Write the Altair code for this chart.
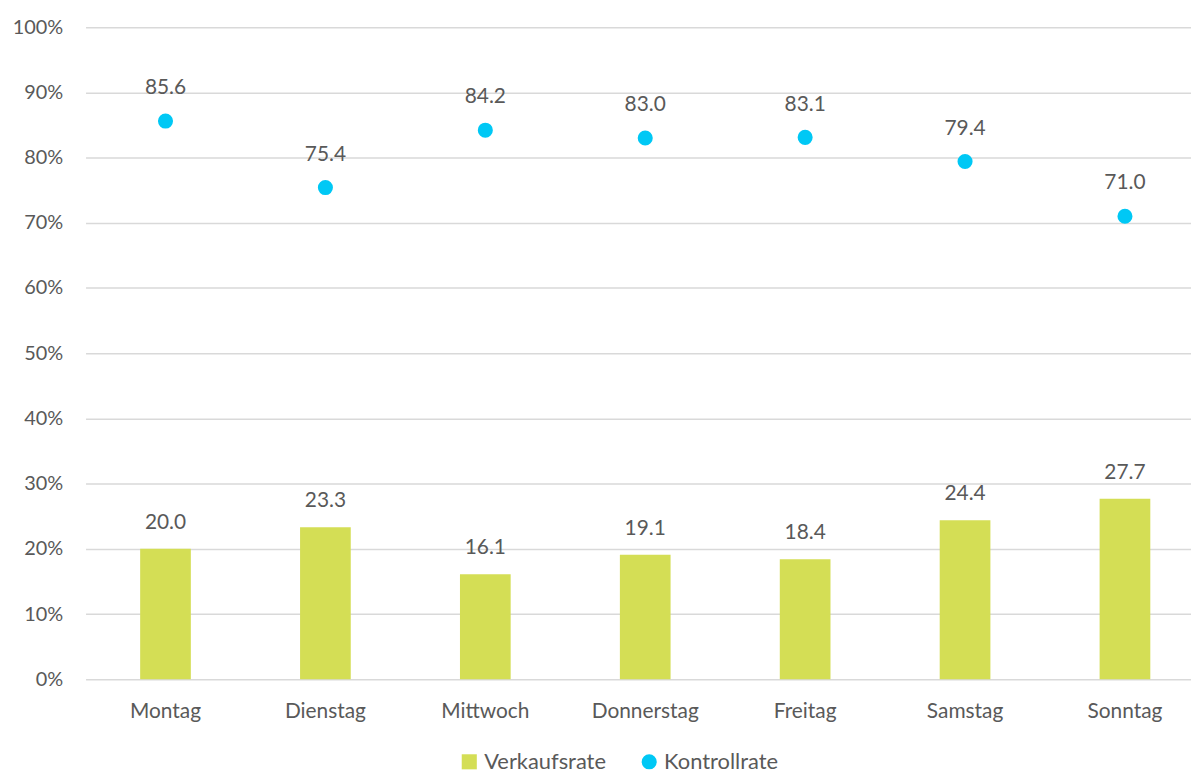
import altair as alt
import pandas as pd

tage = ["Montag", "Dienstag", "Mittwoch", "Donnerstag", "Freitag", "Samstag", "Sonntag"]
verkaufsrate = [20.0, 23.3, 16.1, 19.1, 18.4, 24.4, 27.7]
kontrollrate = [85.6, 75.4, 84.2, 83.0, 83.1, 79.4, 71.0]
serien = ["Verkaufsrate", "Kontrollrate"]
farben = ["#D4DE55", "#00C8F5"]

rows = []
for t, v, k in zip(tage, verkaufsrate, kontrollrate):
    rows.append({"Tag": t, "Serie": "Verkaufsrate", "Wert": v})
    rows.append({"Tag": t, "Serie": "Kontrollrate", "Wert": k})
df = pd.DataFrame(rows)

FONT = "Lato"
TXT = "#595959"

x = alt.X("Tag:N", sort=tage, title=None,
          scale=alt.Scale(range=[0, 1126], paddingInner=0.683, paddingOuter=0.3415, round=False),
          axis=alt.Axis(labelAngle=0, domain=False, ticks=False, labelPadding=21,
                        labelFontSize=21, labelColor=TXT, labelFont=FONT))
y = alt.Y("Wert:Q", title=None,
          scale=alt.Scale(domain=[0, 100], nice=False),
          axis=alt.Axis(values=list(range(0, 101, 10)), labelExpr="datum.value + '%'",
                        domain=False, ticks=False, labelPadding=23, grid=True,
                        gridColor="#D9D9D9", gridWidth=1.5,
                        labelFontSize=20, labelColor=TXT, labelFont=FONT))
color = alt.Color("Serie:N", scale=alt.Scale(domain=serien, range=farben),
                  legend=alt.Legend(title=None, orient="none", legendX=375, legendY=728,
                                    direction="horizontal", labelFontSize=22,
                                    labelColor=TXT, labelFont=FONT, symbolSize=230,
                                    columnPadding=32, labelOffset=4))
shape = alt.Shape("Serie:N", scale=alt.Scale(domain=serien, range=["square", "circle"]))

base = alt.Chart(df)
bars = base.transform_filter(alt.datum.Serie == "Verkaufsrate").mark_bar().encode(
    x=x, y=y, color=color, shape=shape)
bar_labels = base.transform_filter(alt.datum.Serie == "Verkaufsrate").mark_text(
    dy=-26, fontSize=21, color=TXT, font=FONT).encode(
    x=x, y=y, text=alt.Text("Wert:Q", format=".1f"))
points = base.transform_filter(alt.datum.Serie == "Kontrollrate").mark_point(
    filled=True, size=230, opacity=1).encode(x=x, y=y, color=color, shape=shape)
point_labels = base.transform_filter(alt.datum.Serie == "Kontrollrate").mark_text(
    dy=-33, fontSize=21, color=TXT, font=FONT).encode(
    x=x, y=y, text=alt.Text("Wert:Q", format=".1f"))

chart = alt.layer(bars, bar_labels, points, point_labels).properties(
    width=1112, height=656,
    background="white",
    autosize=alt.AutoSizeParams(type="none"),
    padding={"left": 78, "top": 17, "right": 0, "bottom": 93},
).configure_view(stroke=None)

chart.save("out.html", embed_options={"renderer": "svg", "actions": False})
